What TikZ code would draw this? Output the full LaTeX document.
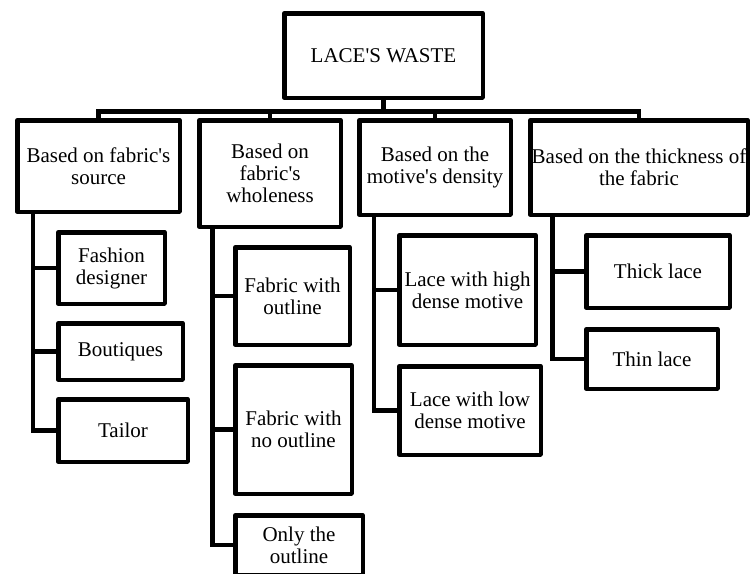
\documentclass[tikz,border=0pt]{standalone}
\usepackage{fontspec}
\setmainfont{Liberation Serif}[Ligatures=TeXOff]
\begin{document}
\begin{tikzpicture}[x=1pt,y=-1pt,
  box/.style={draw,line width=4.5pt,line join=round,inner sep=0pt,align=center,
    font=\fontsize{21}{22}\selectfont},
  link/.style={draw,line width=4.5pt,line join=miter}]
\useasboundingbox (0,0) rectangle (751,573);
\clip (0,0) rectangle (751,573);
% root and level 1
\node[box,minimum width=198.5pt,minimum height=84.5pt] (root) at (383.5,55.5) {LACE'S WASTE};
\node[box,minimum width=162.5pt,minimum height=91.5pt] (b1) at (98.5,166) {Based on fabric's\\source};
\node[box,minimum width=141.5pt,minimum height=106.5pt] (b2) at (270,173.5) {Based on\\fabric's\\wholeness};
\node[box,minimum width=151.5pt,minimum height=94.5pt] (b3) at (435,167.5) {Based on the\\motive's density};
\node[box,minimum width=217.5pt,minimum height=94.5pt] (b4) at (639,167.5) {Based on the thickness of\\the fabric};
% children
\node[box,minimum width=106.5pt,minimum height=71.5pt] (c11) at (111.5,268) {Fashion\\designer};
\node[box,minimum width=124.5pt,minimum height=56.5pt] (c12) at (120.5,351.5) {Boutiques};
\node[box,minimum width=129.5pt,minimum height=62.5pt] (c13) at (123,430.5) {Tailor};
\node[box,minimum width=114.5pt,minimum height=97.5pt] (c21) at (292.5,296) {Fabric with\\outline};
\node[box,minimum width=116.5pt,minimum height=128.5pt] (c22) at (293.5,429.5) {Fabric with\\no outline};
\node[box,minimum width=127.5pt,minimum height=59.5pt] (c23) at (299,545) {Only the\\outline};
\node[box,minimum width=136.5pt,minimum height=109.5pt] (c31) at (467.5,290) {Lace with high\\dense motive};
\node[box,minimum width=141.5pt,minimum height=88.5pt] (c32) at (470,410.5) {Lace with low\\dense motive};
\node[box,minimum width=143.5pt,minimum height=72.5pt] (c41) at (658,271.5) {Thick lace};
\node[box,minimum width=131.5pt,minimum height=59.5pt] (c42) at (652,359) {Thin lace};
% bus
\coordinate (bus) at (0,111.5);
\draw[link] (root.south) -- (root.south |- bus);
\draw[link,line cap=rect] (b1.north |- bus) -- (b4.north |- bus);
\draw[link] (b1.north |- bus) -- (b1.north);
\draw[link] (b2.north |- bus) -- (b2.north);
\draw[link] (b3.north |- bus) -- (b3.north);
\draw[link] (b4.north |- bus) -- (b4.north);
% trunks
\coordinate (t1) at (33,0);
\coordinate (t2) at (212.5,0);
\coordinate (t3) at (374,0);
\coordinate (t4) at (552.5,0);
\draw[link] (b1.south -| t1) |- (c11.west);
\draw[link] (b1.south -| t1) |- (c12.west);
\draw[link] (b1.south -| t1) |- (c13.west);
\draw[link] (b2.south -| t2) |- (c21.west);
\draw[link] (b2.south -| t2) |- (c22.west);
\draw[link] (b2.south -| t2) |- (c23.west);
\draw[link] (b3.south -| t3) |- (c31.west);
\draw[link] (b3.south -| t3) |- (c32.west);
\draw[link] (b4.south -| t4) |- (c41.west);
\draw[link] (b4.south -| t4) |- (c42.west);
\end{tikzpicture}
\end{document}
